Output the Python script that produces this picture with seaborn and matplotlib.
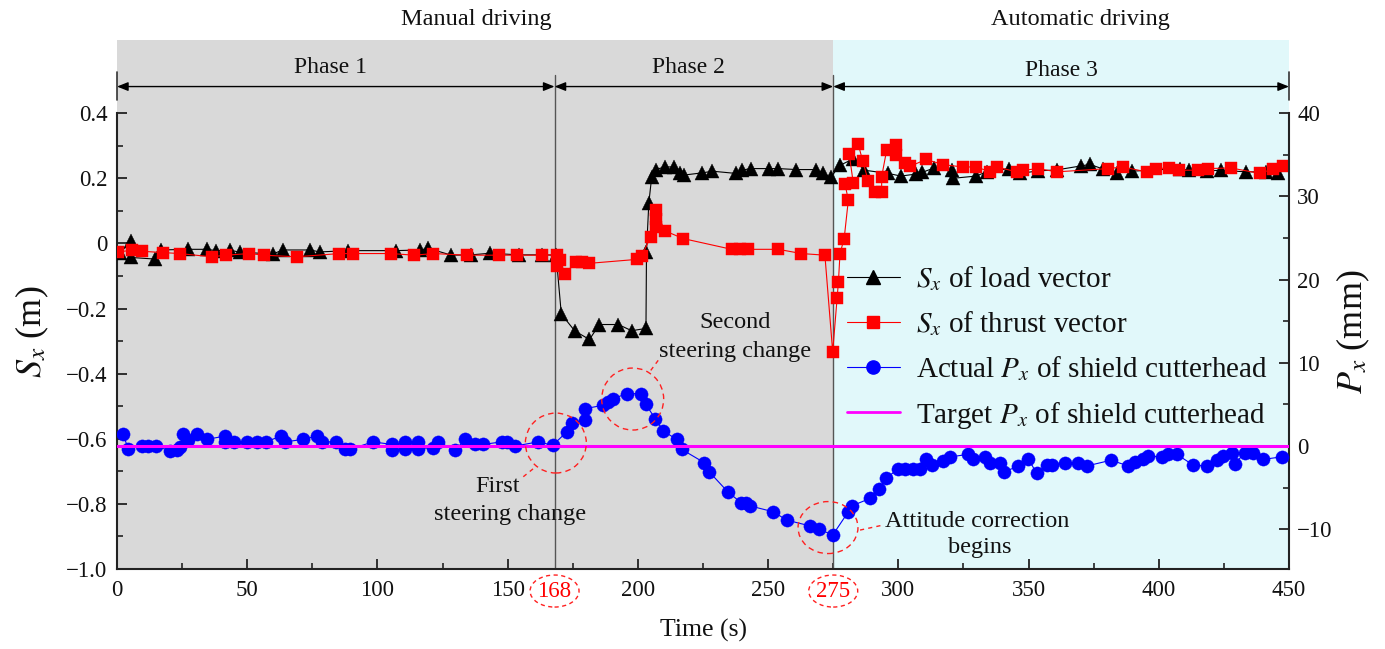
import numpy as np
import pandas as pd
import matplotlib
matplotlib.use("Agg")
import matplotlib.pyplot as plt
import seaborn as sns
from matplotlib.lines import Line2D
from matplotlib.patches import Ellipse
from matplotlib.ticker import FixedLocator, MultipleLocator

# ---------------- data ----------------
load_t = [1, 5.5, 5.5, 14.6, 16.8, 27.4, 34.4, 38.2, 43.3, 47.1, 60, 63.6, 74.1, 77.9, 88.8,
          107.1, 116.3, 119.5, 128.4, 136.1, 143.2, 154.2, 163.3, 168.6,
          170.6, 175.8, 181.4, 185.2, 192.5, 197.6, 203.1, 203.3, 204.2, 205.3, 206.8, 210.3,
          213.9, 216.1, 217.6, 224.8, 228.6, 237.8, 239.8, 243.3, 250.4, 253.9, 260.9, 268.4,
          271.2, 274.0,
          277.6, 282.7, 287.0, 296.2, 301.0, 306.6, 309.0, 313.8, 320.6, 320.8, 329.8, 333.9,
          342.5, 346.7, 353.7, 360.8, 370.0, 373.5, 378.5, 384.1, 389.7, 408.0, 411.5, 418.7,
          424.0, 433.3, 441.0, 445.9]
load_sx = [-0.030, 0.008, -0.043, -0.048, -0.020, -0.018, -0.018, -0.022, -0.020, -0.027, -0.032,
           -0.020, -0.020, -0.026, -0.022, -0.022, -0.020, -0.015, -0.036, -0.035, -0.030, -0.035,
           -0.035, -0.036,
           -0.217, -0.269, -0.295, -0.249, -0.249, -0.268, -0.261, -0.026, 0.125, 0.204, 0.227,
           0.235, 0.235, 0.215, 0.210, 0.217, 0.222, 0.215, 0.225, 0.230, 0.230, 0.230, 0.227,
           0.227, 0.215, 0.203,
           0.240, 0.260, 0.225, 0.215, 0.207, 0.213, 0.218, 0.232, 0.227, 0.200, 0.207, 0.220,
           0.230, 0.215, 0.223, 0.226, 0.238, 0.243, 0.229, 0.217, 0.222, 0.230, 0.225, 0.223,
           0.225, 0.220, 0.220, 0.217]

thrust_t = [0.5, 5.6, 9.5, 17.8, 24.0, 36.3, 41.8, 50.8, 56.4, 69.0, 85.4, 90.8, 105.2, 114.1,
            121.5, 134.3, 146.8, 153.7, 163.3, 168.8,
            168.8, 170.1, 172.0, 176.2, 178.4, 181.4, 199.5, 201.4, 204.9, 206.9, 206.9, 206.9,
            210.3, 217.4, 236.0, 239.2, 242.4, 253.9, 262.8, 271.8, 274.8,
            276.5, 277.0, 277.6, 279.2, 280.8, 279.5, 282.7, 281.1, 284.6, 286.3, 288.5, 291.1,
            293.6, 293.6, 295.5, 299.1, 299.1, 302.6, 304.5, 310.6, 317.3, 324.7, 330.0, 335.2,
            337.8, 345.4, 348.0, 353.7, 360.8, 380.6, 386.1, 395.3, 398.9, 404.0, 407.8, 415.2,
            418.8, 427.7, 438.9, 444.0, 447.8]
thrust_sx = [-0.026, -0.021, -0.024, -0.028, -0.031, -0.041, -0.036, -0.031, -0.036, -0.041,
             -0.031, -0.031, -0.031, -0.036, -0.031, -0.036, -0.036, -0.036, -0.036, -0.034,
             -0.070, -0.051, -0.095, -0.056, -0.056, -0.061, -0.049, -0.039, 0.020, 0.050, 0.075,
             0.102, 0.039, 0.015, -0.018, -0.018, -0.018, -0.018, -0.031, -0.036, -0.333,
             -0.167, -0.118, -0.031, 0.015, 0.133, 0.184, 0.186, 0.276, 0.305, 0.254, 0.191,
             0.158, 0.158, 0.205, 0.286, 0.302, 0.271, 0.248, 0.237, 0.258, 0.242, 0.235, 0.235,
             0.220, 0.235, 0.220, 0.225, 0.230, 0.220, 0.230, 0.235, 0.220, 0.230, 0.232, 0.225,
             0.225, 0.230, 0.232, 0.215, 0.230, 0.237]

px_t = [2.2, 4.3, 9.5, 12.0, 15.0, 20.4, 22.9, 24.0, 25.5, 27.4, 30.6, 34.4, 41.5, 41.5, 44.9,
        49.8, 53.6, 57.2, 62.9, 64.5, 71.5, 76.7, 78.6, 84.1, 87.5, 89.5, 98.2, 105.5, 105.5,
        110.6, 110.6, 115.7, 115.7, 121.2, 123.4, 129.8, 133.7, 137.5, 140.7, 147.7, 149.6,
        152.8, 161.7, 167.3,
        172.7, 174.6, 179.7, 179.7, 186.7, 188.7, 190.6, 195.7, 201.1, 203.1, 206.6, 209.8,
        214.9, 216.8, 225.5, 227.4, 234.5, 239.6, 241.5, 243.1, 252.0, 257.1, 266.1, 269.7,
        274.8,
        280.8, 282.1, 289.1, 292.7, 295.3, 300.0, 302.6, 305.8, 308.3, 310.6, 312.8, 317.3,
        319.9, 326.9, 328.8, 333.3, 335.2, 339.0, 340.7, 346.1, 349.9, 353.1, 356.9, 358.9,
        364.0, 369.1, 372.3, 381.7, 388.3, 390.9, 394.1, 396.0, 401.1, 403.7, 406.9, 413.3,
        418.4, 422.2, 424.8, 428.0, 429.3, 433.1, 436.3, 440.2, 447.2]
px_mm = [1.5, -0.3, 0.0, 0.0, 0.0, -0.6, -0.5, -0.1, 1.5, 0.7, 1.5, 0.8, 1.2, 0.5, 0.5,
         0.5, 0.5, 0.5, 1.2, 0.5, 0.8, 1.2, 0.5, 0.5, -0.4, -0.4, 0.5, 0.2, -0.5,
         0.5, -0.3, 0.5, -0.3, -0.2, 0.5, -0.5, 0.8, 0.2, 0.2, 0.5, 0.5,
         0.0, 0.5, 0.1,
         1.7, 2.8, 3.1, 4.5, 4.9, 5.3, 5.7, 6.3, 6.3, 5.0, 3.3, 1.8,
         0.8, -0.4, -2.0, -3.1, -5.5, -6.8, -6.8, -7.2, -7.9, -8.9, -9.6, -10.0,
         -10.7,
         -7.9, -7.2, -6.3, -5.2, -3.8, -2.8, -2.8, -2.8, -2.8, -1.6, -2.3, -1.8,
         -1.3, -1.0, -1.5, -1.3, -2.0, -2.0, -3.1, -2.4, -1.5, -3.3, -2.3, -2.3,
         -2.0, -2.0, -2.4, -1.7, -2.4, -1.9, -1.5, -1.2, -1.3, -0.9, -1.0, -2.3,
         -2.4, -1.7, -1.2, -0.8, -2.1, -0.8, -0.8, -1.6, -1.3]

target_t = [0, 450]
target_px = [0, 0]

phase_bounds = [0, 168, 275, 450]
phase_names = ["Phase 1", "Phase 2", "Phase 3"]
mode_names = ["Manual driving", "Automatic driving"]

x_ticks = [0, 50, 100, 150, 200, 250, 300, 350, 400, 450]
x_ticklabels = ["0", "50", "100", "150", "200", "250", "300", "350", "400", "450"]
special_ticks = [168, 275]
left_ticks = [-1.0, -0.8, -0.6, -0.4, -0.2, 0.0, 0.2, 0.4]
left_ticklabels = ["\u22121.0", "\u22120.8", "\u22120.6", "\u22120.4", "\u22120.2", "0", "0.2", "0.4"]
right_ticks = [-10, 0, 10, 20, 30, 40]
right_ticklabels = ["\u221210", "0", "10", "20", "30", "40"]

legend_labels = ["$S_x$ of load vector", "$S_x$ of thrust vector",
                 "Actual $P_x$ of shield cutterhead", "Target $P_x$ of shield cutterhead"]

# ---------------- style ----------------
sns.set_theme(style="ticks")
plt.rcParams["font.family"] = ["Liberation Serif", "DejaVu Serif"]
plt.rcParams["mathtext.fontset"] = "stix"

W, H = 1385, 649
fig = plt.figure(figsize=(W / 100, H / 100), dpi=100)
ax = fig.add_axes([117 / W, 80 / H, 1172 / W, 529 / H])
ax.set_xlim(0, 450)
ax.set_ylim(-1.0, 0.625)

GRAY = "#d9d9d9"
CYAN = "#e1f8fa"
ax.axvspan(phase_bounds[0], phase_bounds[2], color=GRAY, lw=0, zorder=0)
ax.axvspan(phase_bounds[2], phase_bounds[3], color=CYAN, lw=0, zorder=0)

# series on left axis
sns.lineplot(x=load_t, y=load_sx, ax=ax, color="black", lw=0.8, marker="^",
             markersize=9.5, markeredgecolor="black", markeredgewidth=0.3,
             sort=False, estimator=None, legend=False, zorder=3)
sns.lineplot(x=thrust_t, y=thrust_sx, ax=ax, color="#ff0000", lw=0.8, marker="s",
             markersize=8, markeredgecolor="#ff0000", markeredgewidth=0.3,
             sort=False, estimator=None, legend=False, zorder=4)

# phase separators
for xb in special_ticks:
    ax.plot([xb, xb], [-1.0, 0.517], color="#555555", lw=1.0, zorder=2)
for xb in [phase_bounds[0], phase_bounds[3]]:
    ax.plot([xb, xb], [0.44, 0.526], color="#333333", lw=1.2, zorder=5, clip_on=False)
arrow_y = 0.482
for i in range(3):
    ax.annotate("", xy=(phase_bounds[i + 1], arrow_y), xytext=(phase_bounds[i], arrow_y),
                arrowprops=dict(arrowstyle="<|-|>,head_length=0.55,head_width=0.22",
                                color="black", lw=1.0, shrinkA=0, shrinkB=0))
    ax.text((phase_bounds[i] + phase_bounds[i + 1]) / 2 + (-2 if i < 2 else 0),
            0.541 if i < 2 else 0.532, phase_names[i],
            ha="center", va="center", fontsize=17, color="#111111")

fig.text(476 / W, 1 - 19 / H, mode_names[0], ha="center", va="center", fontsize=17.5, color="#111111")
fig.text(1080 / W, 1 - 19 / H, mode_names[1], ha="center", va="center", fontsize=17.5, color="#111111")

# ---------------- right axis ----------------
ax2 = ax.twinx()
ax2.set_ylim(-14.78, 48.81)
sns.lineplot(x=px_t, y=px_mm, ax=ax2, color="#0000ff", lw=0.8, marker="o",
             markersize=9.5, markeredgecolor="#0000ff", markeredgewidth=0.3,
             sort=False, estimator=None, legend=False, zorder=3)
sns.lineplot(x=target_t, y=target_px, ax=ax2, color="#ff00ff", lw=2.2,
             sort=False, estimator=None, legend=False, zorder=4)

# dashed circles and annotations
RED = "#ff2020"
for (cx, cy, w, h) in [(168.5, 0.36, 23.4, 7.2), (198.0, 5.65, 23.8, 7.45), (273.0, -9.8, 23.0, 6.25)]:
    ax2.add_patch(Ellipse((cx, cy), w, h, fill=False, ec=RED, lw=1.0, ls=(0, (4, 3)), zorder=6))
for (x0, y0, x1, y1) in [(207.8, 10.3, 204.0, 8.7), (156.0, -3.69, 161.1, -2.4), (285.3, -10.1, 294.1, -9.5)]:
    ax2.plot([x0, x1], [y0, y1], color=RED, lw=1.0, ls=(0, (3, 3)), zorder=6)

ann_fs = 17.5
ax2.text(237.3, 14.18, "Second", ha="center", va="baseline", fontsize=ann_fs, color="#111111")
ax2.text(237.3, 10.73, "steering change", ha="center", va="baseline", fontsize=ann_fs, color="#111111")
ax2.text(146.0, -5.49, "First", ha="center", va="baseline", fontsize=ann_fs, color="#111111")
ax2.text(150.9, -8.89, "steering change", ha="center", va="baseline", fontsize=ann_fs, color="#111111")
ax2.text(330.2, -9.70, "Attitude correction", ha="center", va="baseline", fontsize=ann_fs, color="#111111")
ax2.text(331.4, -12.9, "begins", ha="center", va="baseline", fontsize=ann_fs, color="#111111")

# special red tick labels
for xs in special_ticks:
    ax2.text(xs, -17.43, str(xs), ha="center", va="center", fontsize=16.5, color="#ff0000", clip_on=False)
    ax2.add_patch(Ellipse((xs, -17.43), 18.8, 3.85, fill=False, ec=RED, lw=1.0,
                          ls=(0, (3, 2.5)), clip_on=False, zorder=6))

# ---------------- axes cosmetics ----------------
for a in (ax, ax2):
    a.spines["top"].set_visible(False)
    for s in a.spines.values():
        s.set_color("#222222")
        s.set_linewidth(1.5)
ax.spines["right"].set_visible(False)
ax2.spines["left"].set_visible(False)
ax2.spines["bottom"].set_visible(False)
ax.spines["left"].set_bounds(-1.0, 0.4)
ax2.spines["right"].set_bounds(-14.78, 40)

ax.xaxis.set_major_locator(FixedLocator(x_ticks))
ax.set_xticklabels(x_ticklabels)
ax.xaxis.set_minor_locator(FixedLocator([25 + 50 * i for i in range(9)]))
ax.yaxis.set_major_locator(FixedLocator(left_ticks))
ax.set_yticklabels(left_ticklabels)
ax.yaxis.set_minor_locator(FixedLocator([-0.9, -0.7, -0.5, -0.3, -0.1, 0.1, 0.3]))
ax2.yaxis.set_major_locator(FixedLocator(right_ticks))
ax2.set_yticklabels(right_ticklabels)
ax2.yaxis.set_minor_locator(FixedLocator([-5, 5, 15, 25, 35]))

ax.tick_params(axis="both", which="major", direction="in", length=7, width=1.3,
               labelsize=16.5, color="#222222", labelcolor="#111111")
ax.tick_params(axis="both", which="minor", direction="in", length=4, width=1.2, color="#222222")
ax.tick_params(axis="x", which="both", top=False, pad=8)
ax.tick_params(axis="y", which="both", right=False, left=True, pad=7)
ax2.tick_params(axis="y", which="major", direction="in", length=7, width=1.3,
                labelsize=16.5, color="#222222", labelcolor="#111111", pad=6)
ax2.tick_params(axis="y", which="minor", direction="in", length=4, width=1.2, color="#222222")

ax.set_xlabel("Time (s)", fontsize=18.5, color="#111111")
ax.xaxis.set_label_coords(0.5, -0.095)
ax.set_ylabel("$S_x$ (m)", fontsize=26, color="#111111")
ax.yaxis.set_label_coords(-0.056, 0.448)
ax2.set_ylabel("$P_x$ (mm)", fontsize=26, color="#111111")
ax2.yaxis.set_label_coords(1.039, 0.448)

# legend
handles = [
    Line2D([], [], color="black", lw=0.8, marker="^", markersize=9.5, mec="black"),
    Line2D([], [], color="#ff0000", lw=0.8, marker="s", markersize=8, mec="#ff0000"),
    Line2D([], [], color="#0000ff", lw=0.8, marker="o", markersize=9.5, mec="#0000ff"),
    Line2D([], [], color="#ff00ff", lw=2.0),
]
leg = ax2.legend(handles, legend_labels, loc="upper left",
                 bbox_to_anchor=(847 / W, 1 - 264 / H), bbox_transform=fig.transFigure,
                 frameon=False, fontsize=21, handlelength=1.8, handletextpad=0.55,
                 labelspacing=0.56, borderpad=0, borderaxespad=0)
for t in leg.get_texts():
    t.set_color("#111111")

fig.savefig("out.png", dpi=100)
